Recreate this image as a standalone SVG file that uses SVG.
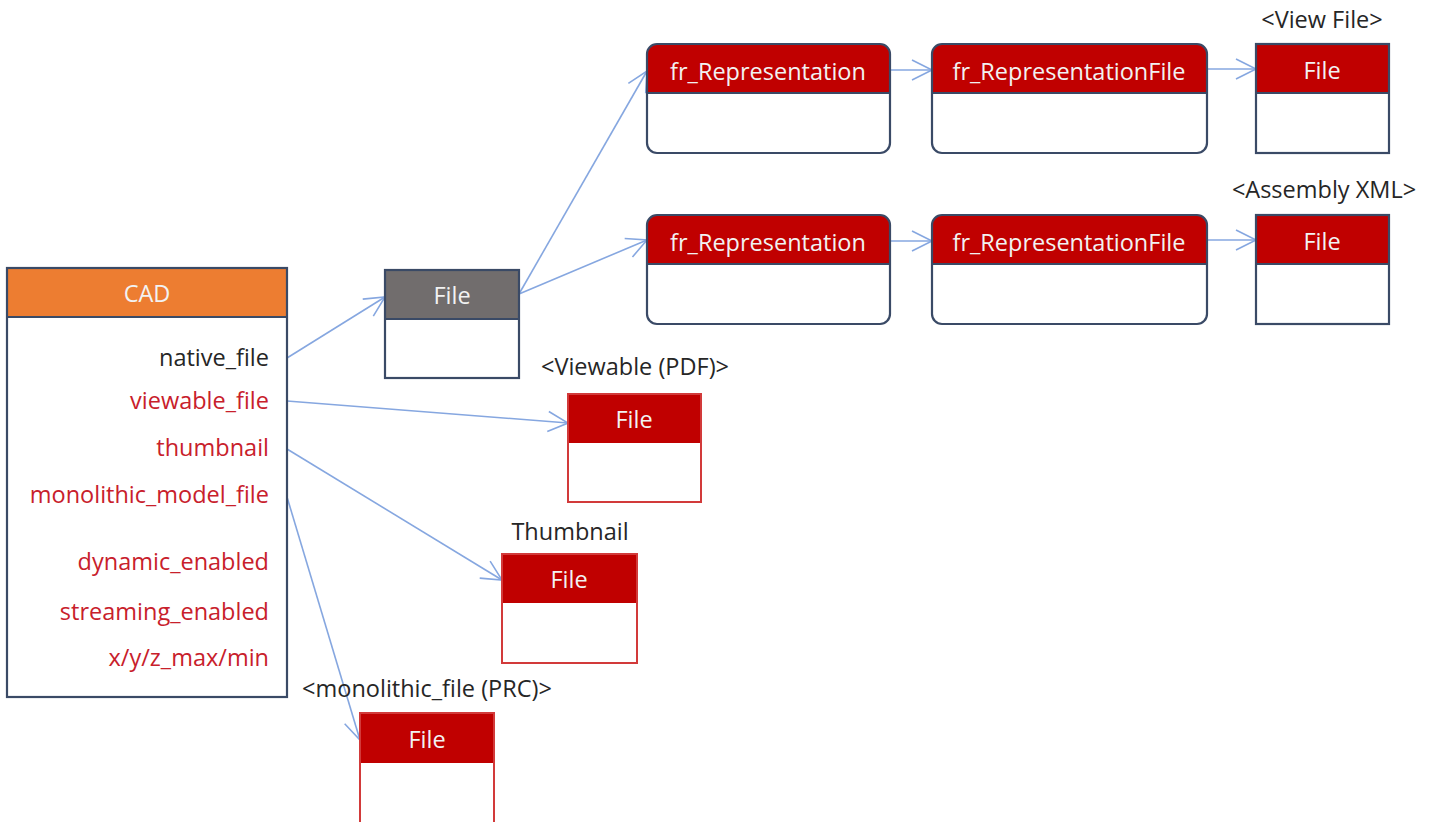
<svg xmlns="http://www.w3.org/2000/svg" width="1433" height="822" viewBox="0 0 1433 822">
<style>
text{font-family:"Open Sans","Noto Sans","Liberation Sans",sans-serif;font-size:23.5px}
.hdr{fill:#F2F2F2;text-anchor:middle}
.lbl{fill:#262626;text-anchor:middle}
.attr{fill:#C8202B;text-anchor:end}
.attrb{fill:#262626;text-anchor:end}
.body{fill:#FFFFFF}
.navy{stroke:#3A4A66;stroke-width:2.2;fill:none}
.redb{stroke:#D23A3A;stroke-width:2;fill:none}
.conn{stroke:#86A7E0;stroke-width:1.6;fill:none;marker-end:url(#arr)}
</style>
<defs>
<marker id="arr" markerUnits="userSpaceOnUse" markerWidth="24" markerHeight="24" viewBox="0 0 24 24" refX="22" refY="12" orient="auto">
<path d="M2,2 L22,12 L2,22" fill="none" stroke="#86A7E0" stroke-width="1.6"/>
</marker>
</defs>
<rect width="1433" height="822" fill="#FFFFFF"/>

<g id="connectors">
<line class="conn" x1="287" y1="358" x2="385" y2="297"/>
<line class="conn" x1="287" y1="401" x2="568" y2="423"/>
<line class="conn" x1="287" y1="449" x2="502" y2="580"/>
<line class="conn" x1="287" y1="497" x2="360" y2="740"/>
<line class="conn" x1="519" y1="294" x2="647" y2="71"/>
<line class="conn" x1="519" y1="294" x2="647" y2="240"/>
<line class="conn" x1="890" y1="70" x2="932" y2="70"/>
<line class="conn" x1="1207" y1="69" x2="1256" y2="69"/>
<line class="conn" x1="890" y1="241" x2="932" y2="241"/>
<line class="conn" x1="1207" y1="240" x2="1256" y2="240"/>
</g>

<g id="cad">
<rect x="7" y="268" width="280" height="429" class="body"/>
<rect x="7" y="268" width="280" height="49" fill="#ED7D31"/>
<line x1="7" y1="317" x2="287" y2="317" stroke="#3A4A66" stroke-width="2"/>
<rect x="7" y="268" width="280" height="429" class="navy"/>
<text class="hdr" x="147" y="302">CAD</text>
<text class="attrb" x="269" y="366">native_file</text>
<text class="attr" x="269" y="409">viewable_file</text>
<text class="attr" x="269" y="456">thumbnail</text>
<text class="attr" x="269" y="503">monolithic_model_file</text>
<text class="attr" x="269" y="570">dynamic_enabled</text>
<text class="attr" x="269" y="620">streaming_enabled</text>
<text class="attr" x="269" y="666">x/y/z_max/min</text>
</g>

<g id="file-native">
<rect x="385" y="270" width="134" height="108" class="body"/>
<rect x="385" y="270" width="134" height="49" fill="#716D6D"/>
<line x1="385" y1="319" x2="519" y2="319" stroke="#3A4A66" stroke-width="2"/>
<rect x="385" y="270" width="134" height="108" class="navy"/>
<text class="hdr" x="452" y="304">File</text>
</g>

<g id="rep1">
<path d="M657,44 H880 A10,10 0 0 1 890,54 V93 H647 V54 A10,10 0 0 1 657,44 Z" fill="#C00000"/>
<line x1="647" y1="93" x2="890" y2="93" stroke="#3A4A66" stroke-width="2"/>
<rect x="647" y="44" width="243" height="109" rx="10" class="navy"/>
<text class="hdr" x="768" y="80">fr_Representation</text>
</g>
<g id="repfile1">
<path d="M942,44 H1197 A10,10 0 0 1 1207,54 V93 H932 V54 A10,10 0 0 1 942,44 Z" fill="#C00000"/>
<line x1="932" y1="93" x2="1207" y2="93" stroke="#3A4A66" stroke-width="2"/>
<rect x="932" y="44" width="275" height="109" rx="10" class="navy"/>
<text class="hdr" x="1069" y="80">fr_RepresentationFile</text>
</g>
<g id="file-view">
<text class="lbl" x="1322" y="28">&lt;View File&gt;</text>
<rect x="1256" y="44" width="133" height="49" fill="#C00000"/>
<line x1="1256" y1="93" x2="1389" y2="93" stroke="#3A4A66" stroke-width="2"/>
<rect x="1256" y="44" width="133" height="109" class="navy"/>
<text class="hdr" x="1322" y="79">File</text>
</g>

<g id="rep2">
<path d="M657,215 H880 A10,10 0 0 1 890,225 V264 H647 V225 A10,10 0 0 1 657,215 Z" fill="#C00000"/>
<line x1="647" y1="264" x2="890" y2="264" stroke="#3A4A66" stroke-width="2"/>
<rect x="647" y="215" width="243" height="109" rx="10" class="navy"/>
<text class="hdr" x="768" y="251">fr_Representation</text>
</g>
<g id="repfile2">
<path d="M942,215 H1197 A10,10 0 0 1 1207,225 V264 H932 V225 A10,10 0 0 1 942,215 Z" fill="#C00000"/>
<line x1="932" y1="264" x2="1207" y2="264" stroke="#3A4A66" stroke-width="2"/>
<rect x="932" y="215" width="275" height="109" rx="10" class="navy"/>
<text class="hdr" x="1069" y="251">fr_RepresentationFile</text>
</g>
<g id="file-assembly">
<text class="lbl" x="1324" y="198">&lt;Assembly XML&gt;</text>
<rect x="1256" y="215" width="133" height="49" fill="#C00000"/>
<line x1="1256" y1="264" x2="1389" y2="264" stroke="#3A4A66" stroke-width="2"/>
<rect x="1256" y="215" width="133" height="109" class="navy"/>
<text class="hdr" x="1322" y="250">File</text>
</g>

<g id="file-viewable">
<text class="lbl" x="635" y="375">&lt;Viewable (PDF)&gt;</text>
<rect x="568" y="394" width="133" height="49" fill="#C00000"/>
<rect x="568" y="394" width="133" height="108" class="redb"/>
<text class="hdr" x="634" y="428">File</text>
</g>

<g id="file-thumbnail">
<text class="lbl" x="570" y="540">Thumbnail</text>
<rect x="502" y="554" width="135" height="49" fill="#C00000"/>
<rect x="502" y="554" width="135" height="109" class="redb"/>
<text class="hdr" x="569" y="588">File</text>
</g>

<g id="file-monolithic">
<text class="lbl" x="427" y="697">&lt;monolithic_file (PRC)&gt;</text>
<rect x="360" y="713" width="134" height="50" fill="#C00000"/>
<rect x="360" y="713" width="134" height="112" class="redb"/>
<text class="hdr" x="427" y="748">File</text>
</g>
</svg>
